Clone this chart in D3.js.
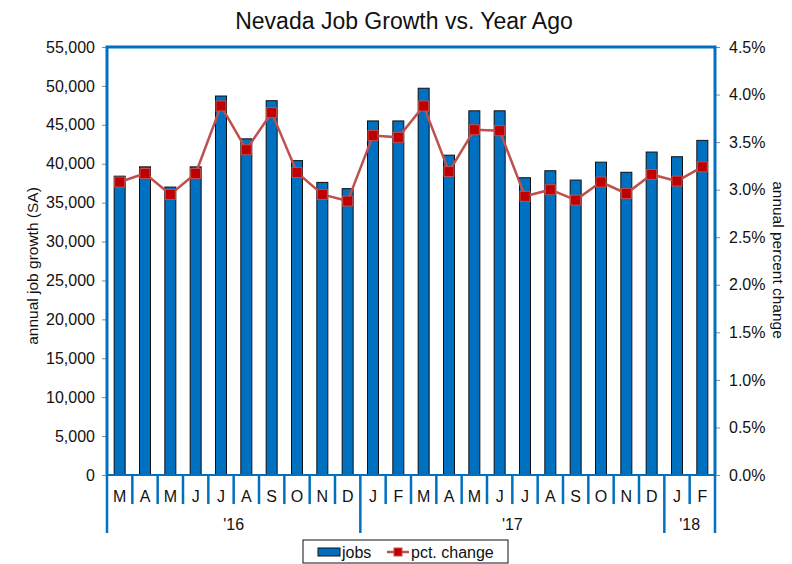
<!DOCTYPE html>
<meta charset="utf-8">
<head>
  <title>Nevada Job Growth vs. Year Ago</title>
</head>
<style>
body { margin: 0; background: white; }
text {
  font-family: "Liberation Sans", Arial, sans-serif;
  fill: #111;
}
.tick text { font-size: 16px; }
</style>
<body>
<svg width="792" height="564"></svg>
<script src="https://cdnjs.cloudflare.com/ajax/libs/d3/7.8.5/d3.min.js"></script>
<script>
var months = ['M','A','M','J','J','A','S','O','N','D','J','F','M','A','M','J','J','A','S','O','N','D','J','F'];
var years = [
  {label: "'16", start: 0, end: 10},
  {label: "'17", start: 10, end: 22},
  {label: "'18", start: 22, end: 24}
];
var jobs = [38400, 39600, 37000, 39600, 48700, 43200, 48100, 40400, 37600, 36800,
            45500, 45500, 49700, 41100, 46800, 46800, 38200, 39100, 37900, 40200,
            38900, 41500, 40900, 43000];
var pct = [3.08, 3.17, 2.95, 3.17, 3.88, 3.42, 3.81, 3.18, 2.95, 2.88,
           3.57, 3.55, 3.88, 3.19, 3.63, 3.62, 2.93, 3.00, 2.89, 3.08,
           2.96, 3.16, 3.09, 3.24];

var svg = d3.select('svg');
var pLeft = 107, pRight = 715, pTop = 47, pBottom = 475;
var blue = '#0070C0';

var x = d3.scaleBand().domain(d3.range(months.length)).range([pLeft, pRight]);
var y = d3.scaleLinear().domain([0, 55000]).range([pBottom, pTop]);
var y2 = d3.scaleLinear().domain([0, 4.5]).range([pBottom, pTop]);

// title
svg.append('text')
  .attr('x', 404).attr('y', 29)
  .attr('text-anchor', 'middle')
  .attr('font-size', '23px')
  .text('Nevada Job Growth vs. Year Ago');

// left axis
var yAxis = svg.append('g')
  .attr('transform', 'translate(' + pLeft + ',0)')
  .call(d3.axisLeft(y).tickValues(d3.range(0, 55001, 5000)).tickSize(5).tickPadding(7).tickFormat(d3.format(',')));
yAxis.select('.domain').remove();
yAxis.selectAll('.tick line').attr('stroke', '#888');

// right axis
var yAxis2 = svg.append('g')
  .attr('transform', 'translate(' + pRight + ',0)')
  .call(d3.axisRight(y2).tickValues(d3.range(0, 4.51, 0.5)).tickSize(5).tickPadding(9).tickFormat(d3.format('.1f')));
yAxis2.select('.domain').remove();
yAxis2.selectAll('.tick line').attr('stroke', '#888');
yAxis2.selectAll('.tick text').text(function(d) { return d3.format('.1f')(d) + '%'; });

// axis titles
svg.append('text')
  .attr('transform', 'translate(38,266) rotate(-90)')
  .attr('text-anchor', 'middle')
  .attr('font-size', '15.5px')
  .text('annual job growth (SA)');
svg.append('text')
  .attr('transform', 'translate(773,260) rotate(90)')
  .attr('text-anchor', 'middle')
  .attr('font-size', '15.5px')
  .text('annual percent change');

// bars
var bw = 11;
svg.append('g').selectAll('rect')
  .data(jobs)
  .enter()
  .append('rect')
  .attr('x', function(d, i) { return x(i) + x.bandwidth() / 2 - bw / 2; })
  .attr('y', function(d) { return y(d); })
  .attr('width', bw)
  .attr('height', function(d) { return pBottom - y(d); })
  .attr('fill', blue)
  .attr('stroke', '#111')
  .attr('stroke-width', 1);

// frame
svg.append('path')
  .attr('d', 'M' + pLeft + ',' + pBottom + 'V' + pTop + 'H' + pRight + 'V' + pBottom)
  .attr('fill', 'none')
  .attr('stroke', blue)
  .attr('stroke-width', 3);
svg.append('line')
  .attr('x1', pLeft).attr('x2', pRight).attr('y1', pBottom).attr('y2', pBottom)
  .attr('stroke', blue).attr('stroke-width', 2);

// category separators
var seps = d3.range(months.length + 1);
var yearEdges = [0, 10, 22, 24];
svg.append('g').selectAll('line')
  .data(seps)
  .enter()
  .append('line')
  .attr('x1', function(i) { return i < months.length ? x(i) : pRight; })
  .attr('x2', function(i) { return i < months.length ? x(i) : pRight; })
  .attr('y1', pBottom)
  .attr('y2', function(i) { return yearEdges.indexOf(i) >= 0 ? 533 : 504; })
  .attr('stroke', blue)
  .attr('stroke-width', 2.5);

// month labels
svg.append('g').selectAll('text')
  .data(months)
  .enter()
  .append('text')
  .attr('x', function(d, i) { return x(i) + x.bandwidth() / 2; })
  .attr('y', 502)
  .attr('text-anchor', 'middle')
  .attr('font-size', '16px')
  .text(function(d) { return d; });

// year labels
svg.append('g').selectAll('text')
  .data(years)
  .enter()
  .append('text')
  .attr('x', function(d) { return (x(d.start) + (d.end < months.length ? x(d.end) : pRight)) / 2; })
  .attr('y', 530)
  .attr('text-anchor', 'middle')
  .attr('font-size', '16px')
  .text(function(d) { return d.label; });

// pct line
var line = d3.line()
  .x(function(d, i) { return x(i) + x.bandwidth() / 2; })
  .y(function(d) { return y2(d); });
svg.append('path')
  .datum(pct)
  .attr('d', line)
  .attr('fill', 'none')
  .attr('stroke', '#C0504D')
  .attr('stroke-width', 2.5);
var ms = 10;
svg.append('g').selectAll('rect')
  .data(pct)
  .enter()
  .append('rect')
  .attr('x', function(d, i) { return x(i) + x.bandwidth() / 2 - ms / 2; })
  .attr('y', function(d) { return y2(d) - ms / 2; })
  .attr('width', ms)
  .attr('height', ms)
  .attr('fill', '#C00000')
  .attr('stroke', '#C0504D')
  .attr('stroke-width', 1);

// legend
var lg = svg.append('g').attr('transform', 'translate(303,540)');
lg.append('rect')
  .attr('width', 205).attr('height', 23)
  .attr('fill', 'white').attr('stroke', '#111');
lg.append('rect')
  .attr('x', 15).attr('y', 8).attr('width', 22).attr('height', 8)
  .attr('fill', blue).attr('stroke', '#111');
lg.append('text').attr('x', 39).attr('y', 18).attr('font-size', '16px').text('jobs');
lg.append('line')
  .attr('x1', 84).attr('x2', 106).attr('y1', 12).attr('y2', 12)
  .attr('stroke', '#C0504D').attr('stroke-width', 2.5);
lg.append('rect')
  .attr('x', 91).attr('y', 8).attr('width', 8).attr('height', 8)
  .attr('fill', '#C00000').attr('stroke', '#C0504D');
lg.append('text').attr('x', 108).attr('y', 18).attr('font-size', '16px').text('pct. change');
</script>
</body>
</html>
